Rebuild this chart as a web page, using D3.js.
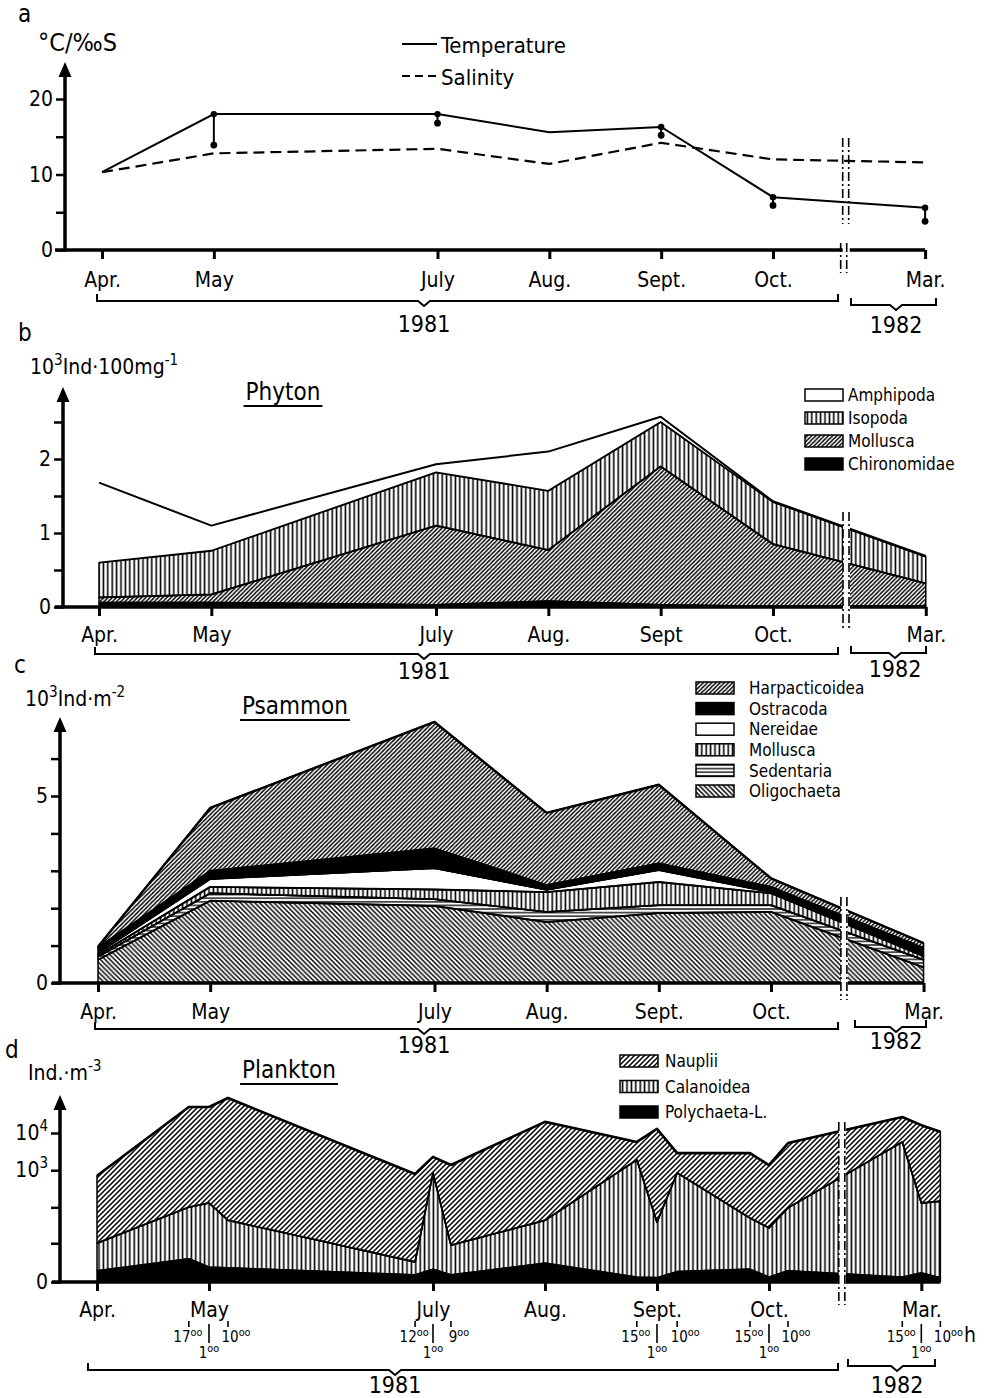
<!DOCTYPE html>
<html>
<head>
<meta charset="utf-8">
<script src="https://cdn.jsdelivr.net/npm/d3@7"></script>
<style>
  body { margin: 0; background: #fff; }
  svg text { font-family: "Liberation Sans Narrow", "DejaVu Sans Condensed", "Arial Narrow", sans-serif; font-stretch: condensed; fill: #000; }
</style>
</head>
<body>
<div id="chart"></div>
<script>
// month ticks, in "months after April" (Mar. 1982 sits after the axis break)
const months = ["Apr.", "May", "July", "Aug.", "Sept.", "Oct.", "Mar."];
const phyton_months = ["Apr.", "May", "July", "Aug.", "Sept", "Oct.", "Mar."];
const month_pos = [0, 1, 3, 4, 5, 6, 7.36];
const BREAK = 6.65;

// a: temperature / salinity
const temperature = [10.3, 18.0, 18.0, 15.6, 16.3, 7.0, 5.6];
const temperature_low = [null, 13.9, 16.8, null, 15.2, 5.9, 3.8];
const salinity = [10.3, 12.8, 13.4, 11.4, 14.2, 12.0, 11.6];

// b: Phyton, 10^3 Ind per 100 mg
const phyton_chironomidae = [0.06, 0.06, 0.03, 0.08, 0.03, 0.01, 0.01];
const phyton_mollusca = [0.07, 0.11, 1.07, 0.69, 1.87, 0.84, 0.31];
const phyton_isopoda = [0.47, 0.59, 0.72, 0.8, 0.6, 0.57, 0.36];
const phyton_amphipoda = [1.08, 0.34, 0.11, 0.53, 0.07, 0.01, 0.01];

// c: Psammon, 10^3 Ind per m2
const psammon_oligochaeta = [0.62, 2.2, 2.06, 1.63, 1.87, 1.9, 0.42];
const psammon_sedentaria = [0.08, 0.2, 0.18, 0.27, 0.21, 0.18, 0.2];
const psammon_mollusca = [0.05, 0.17, 0.26, 0.53, 0.62, 0.32, 0.1];
const psammon_nereidae = [0.05, 0.21, 0.57, 0.06, 0.32, 0.03, 0.04];
const psammon_ostracoda = [0.15, 0.22, 0.53, 0.13, 0.18, 0.14, 0.18];
const psammon_harpacticoidea = [0.02, 1.68, 3.38, 1.93, 2.1, 0.23, 0.13];

// d: Plankton, Ind per m3, sampled around the clock
const plankton_pos = [0, 0.82, 1, 1.17, 2.84, 3, 3.16, 4, 4.82, 5, 5.18, 5.83, 6, 6.17, 7.19, 7.36, 7.53];
const plankton_hours = [null, "17", "1", "10", "12", "1", "9", null, "15", "1", "10", "15", "1", "10", "15", "1", "10"];
const plankton_polychaeta = [1, 3.2, 1.5, 1.4, 0.55, 1.2, 0.55, 2.2, 0.35, 0.3, 0.9, 1.2, 0.35, 1, 0.35, 0.75, 0.3];
const plankton_calanoidea = [9, 98, 130, 43, 1.9, 850, 8.2, 42, 1900, 39, 850, 50, 27, 96, 5750, 130, 146];
const plankton_nauplii = [700, 50000, 49900, 87000, 790, 1440, 1370, 19900, 3850, 12840, 2030, 2830, 1350, 5270, 21200, 16100, 10600];


const load_content = () => {
  const svg = d3.select("#chart").append("svg")
    .attr("width", 987)
    .attr("height", 1398);

  add_patterns(svg);

  temperature_plot(svg);
  phyton_plot(svg);
  psammon_plot(svg);
  plankton_plot(svg);
}

const add_patterns = (svg) => {
  const defs = svg.append("defs");
  const hatch = (id, w, h, d, sw) => {
    const p = defs.append("pattern")
      .attr("id", id)
      .attr("patternUnits", "userSpaceOnUse")
      .attr("width", w)
      .attr("height", h);
    p.append("rect").attr("width", w).attr("height", h).attr("fill", "#fff");
    p.append("path").attr("d", d).attr("stroke", "#000").attr("stroke-width", sw).attr("fill", "none");
  }
  const diag = (s) => `M-1,1l2,-2M0,${s}L${s},0M${s - 1},${s + 1}l2,-2`;
  const back = (s) => `M-1,${s - 1}l2,2M0,0L${s},${s}M${s - 1},-1l2,2`;
  hatch("fwd", 4.2, 4.2, diag(4.2), 1.4);
  hatch("fwd_wide", 5, 5, diag(5), 1.5);
  hatch("back", 4.8, 4.8, back(4.8), 1.5);
  hatch("vert", 4.4, 4, "M2.2,0V4", 1.6);
  hatch("horiz", 4, 3.6, "M0,1.8H4", 1.3);
}

/* shared pieces */

const rich_text = (svg, x, y, size, parts, anchor) => {
  const t = svg.append("text")
    .attr("x", x)
    .attr("y", y)
    .attr("font-size", size)
    .attr("text-anchor", anchor || "start");
  let shift = 0;
  parts.forEach(([s, sup]) => {
    const target = sup ? -size * 0.42 : 0;
    t.append("tspan")
      .attr("dy", target - shift)
      .attr("font-size", sup ? size * 0.72 : size)
      .text(s);
    shift = target;
  });
  return t;
}

const draw_y_axis = (svg, y, x0, top, ticks, labels) => {
  const axis = d3.axisLeft(y)
    .tickValues(ticks)
    .tickSize(9)
    .tickPadding(3)
    .tickFormat((d, i) => labels[i]);
  const g = svg.append("g")
    .attr("transform", `translate(${x0},0)`)
    .call(axis)
    .attr("font-size", 21);
  g.select(".domain").remove();
  g.selectAll(".tick line").attr("stroke-width", 2.5);

  svg.append("line")
    .attr("x1", x0).attr("x2", x0)
    .attr("y1", y.range()[0] + 1.5)
    .attr("y2", top + 10)
    .attr("stroke", "#000")
    .attr("stroke-width", 3.5);
  svg.append("path")
    .attr("d", `M${x0},${top}L${x0 - 6.5},${top + 15}L${x0 + 6.5},${top + 15}Z`);
  return g;
}

const draw_x_axis = (svg, x, y0, x_left, x_right, labels, label_dy) => {
  const axis = d3.axisBottom(x)
    .tickValues(month_pos)
    .tickSize(9)
    .tickFormat((d, i) => labels[i]);
  const g = svg.append("g")
    .attr("transform", `translate(0,${y0})`)
    .call(axis)
    .attr("font-size", 21);
  g.select(".domain").remove();
  g.selectAll(".tick line").attr("stroke-width", 3);
  g.selectAll(".tick text").attr("y", label_dy).attr("dy", 0);

  // axis line, broken between Oct. and Mar.
  const xb = x(BREAK);
  svg.append("path")
    .attr("d", `M${x_left},${y0}H${xb - 3}M${xb + 4},${y0}H${x_right}`)
    .attr("stroke", "#000")
    .attr("stroke-width", 3.5);
}

const bracket = (svg, x0, x1, tip, y, label, label_y) => {
  svg.append("path")
    .attr("d", `M${x0},${y - 7}V${y}H${tip - 6}L${tip},${y + 5}L${tip + 6},${y}H${x1}V${y - 7}`)
    .attr("fill", "none")
    .attr("stroke", "#000")
    .attr("stroke-width", 2);
  svg.append("text")
    .attr("x", tip)
    .attr("y", label_y)
    .attr("text-anchor", "middle")
    .attr("font-size", 23)
    .text(label);
}

const break_marks = (svg, xb, y_top, y_bottom, gap) => {
  if (gap)
    svg.append("rect")
      .attr("x", xb - 3).attr("y", y_top)
      .attr("width", 7).attr("height", y_bottom - y_top)
      .attr("fill", "#fff");
  [xb - 3, xb + 3].forEach((xx) =>
    svg.append("line")
      .attr("x1", xx).attr("x2", xx)
      .attr("y1", y_top).attr("y2", y_bottom)
      .attr("stroke", "#000")
      .attr("stroke-width", 1.6)
      .attr("stroke-dasharray", "9,3,2,3"));
}

const title = (svg, x, y, label) => {
  const t = svg.append("text")
    .attr("x", x).attr("y", y)
    .attr("text-anchor", "middle")
    .attr("font-size", 24)
    .text(label);
  const bb = t.node().getBBox();
  svg.append("line")
    .attr("x1", bb.x - 2).attr("x2", bb.x + bb.width + 2)
    .attr("y1", y + 6).attr("y2", y + 6)
    .attr("stroke", "#000")
    .attr("stroke-width", 1.8);
}

const legend = (svg, x, y0, step, items, size, text_dx) => {
  items.forEach(([label, fill], i) => {
    const cy = y0 + i * step;
    svg.append("rect")
      .attr("x", x).attr("y", cy - 6)
      .attr("width", 38).attr("height", 12)
      .attr("fill", fill)
      .attr("stroke", "#000")
      .attr("stroke-width", 1.5);
    svg.append("text")
      .attr("x", x + text_dx).attr("y", cy + size * 0.36)
      .attr("font-size", size)
      .text(label);
  });
}

const stacked_areas = (svg, x, y, xs, layers, outline) => {
  const rows = xs.map((p, i) => {
    const r = { pos: p };
    layers.forEach((l) => r[l.key] = l.values[i]);
    return r;
  });
  const series = d3.stack().keys(layers.map((l) => l.key))(rows);
  const area = d3.area()
    .x((d) => x(d.data.pos))
    .y0((d) => y(d[0]))
    .y1((d) => y(d[1]));
  const top_line = d3.line()
    .x((d) => x(d.data.pos))
    .y((d) => y(d[1]));

  series.forEach((s, i) => {
    const l = layers[i];
    svg.append("path")
      .attr("d", area(s))
      .attr("fill", l.fill)
      .attr("stroke", l.edge ? "#000" : "none")
      .attr("stroke-width", 1.5)
      .attr("stroke-linejoin", "round");
  });
  // heavier upper edge of every band
  series.forEach((s, i) => {
    svg.append("path")
      .attr("d", top_line(s))
      .attr("fill", "none")
      .attr("stroke", "#000")
      .attr("stroke-width", i === series.length - 1 ? outline : 1.8)
      .attr("stroke-linejoin", "round");
  });
}

/*
 * a  temperature and salinity
 * */

const temperature_plot = (svg) => {
  const x = d3.scaleLinear().domain([0, 6]).range([102, 773]);
  const y = d3.scaleLinear().domain([0, 20]).range([250, 99]);

  svg.append("text").attr("x", 18).attr("y", 22).attr("font-size", 24).text("a");
  svg.append("text").attr("x", 38).attr("y", 51).attr("font-size", 25).text("°C/‰S");

  const pts = month_pos.map((p, i) => ({ pos: p, t: temperature[i], lo: temperature_low[i], s: salinity[i] }));

  const line_t = d3.line().x((d) => x(d.pos)).y((d) => y(d.t));
  const line_s = d3.line().x((d) => x(d.pos)).y((d) => y(d.s));

  svg.append("path")
    .attr("d", line_s(pts))
    .attr("fill", "none")
    .attr("stroke", "#000")
    .attr("stroke-width", 2.2)
    .attr("stroke-dasharray", "11,6");
  svg.append("path")
    .attr("d", line_t(pts))
    .attr("fill", "none")
    .attr("stroke", "#000")
    .attr("stroke-width", 2);

  const paired = pts.filter((d) => d.lo !== null);
  svg.selectAll("line.pair")
    .data(paired)
    .enter()
    .append("line")
    .attr("x1", (d) => x(d.pos)).attr("x2", (d) => x(d.pos))
    .attr("y1", (d) => y(d.t)).attr("y2", (d) => y(d.lo))
    .attr("stroke", "#000")
    .attr("stroke-width", 2);
  svg.selectAll("circle.hi")
    .data(paired)
    .enter()
    .append("circle")
    .attr("cx", (d) => x(d.pos)).attr("cy", (d) => y(d.t))
    .attr("r", 3.2);
  svg.selectAll("circle.lo")
    .data(paired)
    .enter()
    .append("circle")
    .attr("cx", (d) => x(d.pos)).attr("cy", (d) => y(d.lo))
    .attr("r", 3.4);

  // legend
  svg.append("line").attr("x1", 402).attr("x2", 437).attr("y1", 44).attr("y2", 44)
    .attr("stroke", "#000").attr("stroke-width", 2);
  svg.append("text").attr("x", 441).attr("y", 53).attr("font-size", 22).text("Temperature");
  svg.append("line").attr("x1", 402).attr("x2", 437).attr("y1", 76).attr("y2", 76)
    .attr("stroke", "#000").attr("stroke-width", 2).attr("stroke-dasharray", "8,5");
  svg.append("text").attr("x", 441).attr("y", 85).attr("font-size", 22).text("Salinity");

  const xb = x(BREAK);
  break_marks(svg, xb, 138, 224, false);
  break_marks(svg, xb - 2, 243, 273, false);

  draw_y_axis(svg, y, 65, 62, [0, 5, 10, 15, 20], ["0", "", "10", "", "20"]);
  draw_x_axis(svg, x, 250, 55, x(7.36), months, 37);

  bracket(svg, 97, 838, 424, 301, "1981", 332);
  bracket(svg, 851, 936, 896, 305, "1982", 333);
}

/*
 * b  Phyton
 * */

const phyton_plot = (svg) => {
  const x = d3.scaleLinear().domain([0, 6]).range([99, 773]);
  const y = d3.scaleLinear().domain([0, 2]).range([607, 459]);

  svg.append("text").attr("x", 18).attr("y", 341).attr("font-size", 24).text("b");
  rich_text(svg, 30, 374, 21, [["10", false], ["3", true], ["Ind·100mg", false], ["-1", true]]);
  title(svg, 283, 400, "Phyton");

  stacked_areas(svg, x, y, month_pos, [
    { key: "Chironomidae", values: phyton_chironomidae, fill: "#000", edge: true },
    { key: "Mollusca", values: phyton_mollusca, fill: "url(#fwd)", edge: true },
    { key: "Isopoda", values: phyton_isopoda, fill: "url(#vert)", edge: true },
    { key: "Amphipoda", values: phyton_amphipoda, fill: "#fff", edge: false }
  ], 2);

  legend(svg, 805, 395, 23, [
    ["Amphipoda", "#fff"],
    ["Isopoda", "url(#vert)"],
    ["Mollusca", "url(#fwd)"],
    ["Chironomidae", "#000"]
  ], 17, 43);

  const xb = x(BREAK);
  break_marks(svg, xb, 512, 628, true);

  draw_y_axis(svg, y, 63, 387, [0, 0.5, 1, 1.5, 2, 2.5], ["0", "", "1", "", "2", ""]);
  draw_x_axis(svg, x, 607, 55, x(7.36), phyton_months, 35);

  bracket(svg, 95, 838, 424, 654, "1981", 679);
  bracket(svg, 851, 926, 895, 653, "1982", 677);
}

/*
 * c  Psammon
 * */

const psammon_plot = (svg) => {
  const x = d3.scaleLinear().domain([0, 6]).range([98, 771]);
  const y = d3.scaleLinear().domain([0, 5]).range([983, 796]);

  svg.append("text").attr("x", 14).attr("y", 673).attr("font-size", 24).text("c");
  rich_text(svg, 25, 706, 21, [["10", false], ["3", true], ["Ind·m", false], ["-2", true]]);
  title(svg, 295, 714, "Psammon");

  stacked_areas(svg, x, y, month_pos, [
    { key: "Oligochaeta", values: psammon_oligochaeta, fill: "url(#back)", edge: true },
    { key: "Sedentaria", values: psammon_sedentaria, fill: "url(#horiz)", edge: true },
    { key: "Mollusca", values: psammon_mollusca, fill: "url(#vert)", edge: true },
    { key: "Nereidae", values: psammon_nereidae, fill: "#fff", edge: true },
    { key: "Ostracoda", values: psammon_ostracoda, fill: "#000", edge: true },
    { key: "Harpacticoidea", values: psammon_harpacticoidea, fill: "url(#fwd)", edge: true }
  ], 2.4);

  legend(svg, 696, 688, 20.6, [
    ["Harpacticoidea", "url(#fwd)"],
    ["Ostracoda", "#000"],
    ["Nereidae", "#fff"],
    ["Mollusca", "url(#vert)"],
    ["Sedentaria", "url(#horiz)"],
    ["Oligochaeta", "url(#back)"]
  ], 17, 53);

  const xb = x(BREAK);
  break_marks(svg, xb, 897, 1000, true);

  draw_y_axis(svg, y, 60, 717, [0, 1, 2, 3, 4, 5, 6], ["0", "", "", "", "", "5", ""]);
  draw_x_axis(svg, x, 983, 52, x(7.36), months, 36);

  bracket(svg, 95, 838, 424, 1029, "1981", 1053);
  bracket(svg, 855, 926, 896, 1027, "1982", 1049);
}

/*
 * d  Plankton
 * */

const plankton_plot = (svg) => {
  const x = d3.scaleLinear().domain([0, 6]).range([97, 769]);
  const y = d3.scaleSymlog().constant(1).domain([0, 10000]).range([1282, 1133]);

  svg.append("text").attr("x", 5).attr("y", 1058).attr("font-size", 24).text("d");
  rich_text(svg, 28, 1080, 21, [["Ind.·m", false], ["-3", true]]);
  title(svg, 289, 1078, "Plankton");

  stacked_areas(svg, x, y, plankton_pos, [
    { key: "Polychaeta-L.", values: plankton_polychaeta, fill: "#000", edge: true },
    { key: "Calanoidea", values: plankton_calanoidea, fill: "url(#vert)", edge: true },
    { key: "Nauplii", values: plankton_nauplii, fill: "url(#fwd_wide)", edge: true }
  ], 2.6);

  legend(svg, 620, 1061, 25.5, [
    ["Nauplii", "url(#fwd_wide)"],
    ["Calanoidea", "url(#vert)"],
    ["Polychaeta-L.", "#000"]
  ], 17, 45);

  const xb = x(BREAK);
  break_marks(svg, xb, 1122, 1305, true);

  const g = draw_y_axis(svg, y, 60, 1095, [0, 10, 100, 1000, 10000], ["0", "", "", "10", "10"]);
  g.selectAll(".tick text")
    .filter((d) => d >= 1000)
    .append("tspan")
    .attr("dy", -9)
    .attr("font-size", 15)
    .text((d) => Math.round(Math.log10(d)));
  draw_x_axis(svg, x, 1282, 52, x(plankton_pos[plankton_pos.length - 1]), months, 35);

  // time-of-day marks under the month names
  plankton_pos.forEach((p, i) => {
    const h = plankton_hours[i];
    if (h === null) return;
    const xx = x(p);
    const mid = h === "1";
    svg.append("line")
      .attr("x1", xx).attr("x2", xx)
      .attr("y1", mid ? 1324 : 1321)
      .attr("y2", mid ? 1343 : 1327)
      .attr("stroke", "#000")
      .attr("stroke-width", 1.6);
    const is_left = i > 0 && plankton_hours[i + 1] === "1";
    const tx = mid ? xx : (is_left ? xx - 1 : xx + 8);
    rich_text(svg, tx, mid ? 1358 : 1342, 15, [[h, false], ["oo", true]], "middle");
  });
  svg.append("text").attr("x", 964).attr("y", 1342).attr("font-size", 21).text("h");

  bracket(svg, 88, 838, 395, 1370, "1981", 1393);
  bracket(svg, 848, 935, 897, 1366, "1982", 1393);
}

load_content();
</script>
</body>
</html>
